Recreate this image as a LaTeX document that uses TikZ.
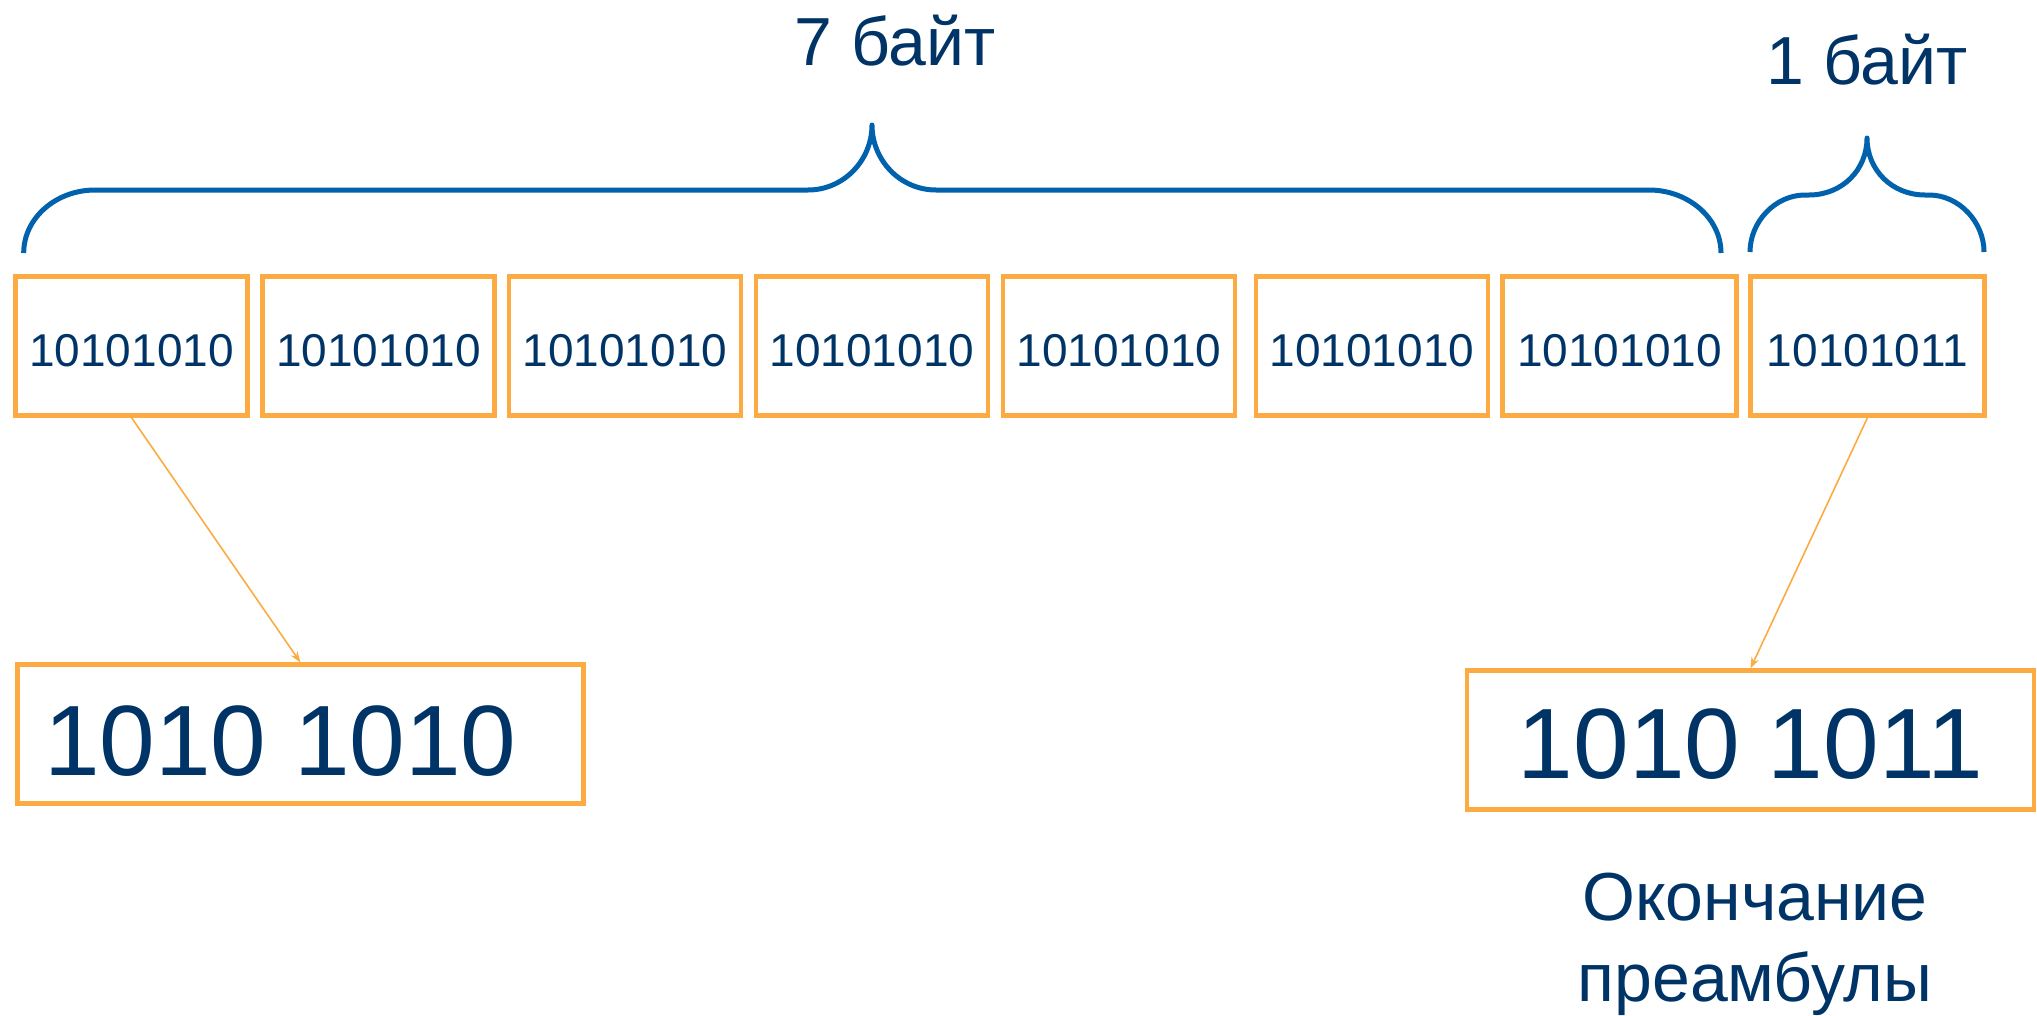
\documentclass[tikz,border=0pt]{standalone}
\usepackage{fontspec}
\setmainfont{Liberation Sans}
\usetikzlibrary{arrows.meta}
\definecolor{boxorange}{RGB}{251,171,66}
\definecolor{braceblue}{RGB}{0,97,172}
\definecolor{textnavy}{RGB}{0,51,102}
\newcommand{\lowered}[2]{\raisebox{-#1}[\height][0pt]{#2}}
\tikzset{
  bytebox/.style={draw=boxorange, line width=4.2pt, minimum width=232pt, minimum height=139pt, inner sep=0pt, text=textnavy, font=\fontsize{46}{55}\selectfont},
  bigbox/.style={draw=boxorange, line width=4.2pt, minimum width=566pt, minimum height=139pt, inner sep=0pt, text=textnavy, font=\fontsize{100}{120}\selectfont},
  bracestyle/.style={draw=braceblue, line width=5pt, line join=round},
  pointer/.style={draw=boxorange, line width=1.6pt, -{Stealth[length=11pt,width=8pt]}},
  label/.style={text=textnavy, font=\fontsize{68}{82}\selectfont, inner sep=0pt}
}
\begin{document}
\begin{tikzpicture}[x=1pt,y=-1pt]
\useasboundingbox (0,0) rectangle (2037,1015);
% byte boxes
\node[bytebox] (b1) at (131.5,346) {\lowered{4pt}{10101010}};
\node[bytebox] (b2) at (378.5,346) {\lowered{4pt}{10101010}};
\node[bytebox] (b3) at (625,346) {\lowered{4pt}{10101010}};
\node[bytebox] (b4) at (872,346) {\lowered{4pt}{10101010}};
\node[bytebox] (b5) at (1119,346) {\lowered{4pt}{10101010}};
\node[bytebox] (b6) at (1372,346) {\lowered{4pt}{10101010}};
\node[bytebox, minimum width=234pt] (b7) at (1619.5,346) {\lowered{4pt}{10101010}};
\node[bytebox, minimum width=234pt] (b8) at (1867.5,346) {\lowered{4pt}{10101011}};
% big boxes
\node[bigbox] (big1) at (300.4,734) {\lowered{7pt}{1010 1010}\hspace*{40pt}};
\node[bigbox, minimum width=567pt] (big2) at (1750.5,740) {\lowered{4pt}{1010 1011}};
% pointers
\draw[pointer] (b1.south) -- (big1.north);
\draw[pointer] (b8.south) -- (big2.north);
% braces
\draw[bracestyle] (23.7,253) .. controls (23.7,218) and (56,190) .. (95,190)
  -- (808,190) .. controls (844,190) and (872,160) .. (872,125)
  .. controls (872,160) and (900,190) .. (936,190)
  -- (1649,190) .. controls (1688,190) and (1721,218) .. (1721,253);
\draw[bracestyle] (1750,252) .. controls (1750,222) and (1775,195) .. (1805,195)
  -- (1809,195) .. controls (1842,195) and (1867,170) .. (1867,138)
  .. controls (1867,170) and (1892,195) .. (1925,195)
  -- (1929,195) .. controls (1959,195) and (1984,222) .. (1984,252);
% labels
\node[label, anchor=base] (l7) at (895,65) {7 байт};
\node[label, anchor=base] (l1) at (1867,84) {1 байт};
\node[label, anchor=base, align=center] (end1) at (1755,920) {Окончание};
\node[label, anchor=base, align=center] (end2) at (1755,1001.5) {преамбулы};
\end{tikzpicture}
\end{document}
